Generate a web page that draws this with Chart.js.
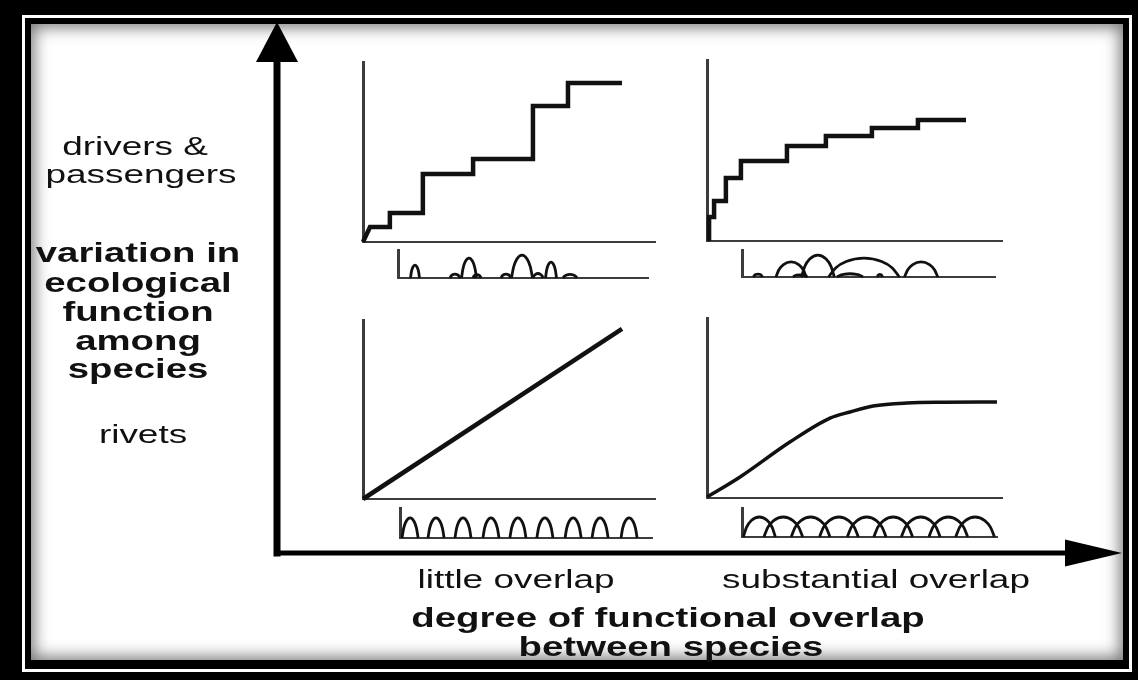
<!DOCTYPE html>
<html>
<head>
<meta charset="utf-8">
<script src="https://cdn.jsdelivr.net/npm/chart.js@4.4.1/dist/chart.umd.min.js"></script>
<style>
html,body{margin:0;padding:0;background:#000;width:1138px;height:680px;overflow:hidden;}
#frame{position:absolute;left:22px;top:15px;width:1110px;height:657px;background:#fff;padding:3px;box-sizing:border-box;}
#frame2{width:100%;height:100%;background:#000;padding:6px 6px 9px 6px;box-sizing:border-box;}
#paper{width:100%;height:100%;background:#fff;box-shadow:inset 0 0 16px 3px rgba(0,0,0,0.55);}
canvas{position:absolute;}
.lbl{position:absolute;width:400px;font-family:"Liberation Sans",Arial,sans-serif;font-size:26px;line-height:30px;color:#111;text-align:center;white-space:nowrap;transform:scaleX(1.42);transform-origin:50% 50%;}
.b{font-weight:bold;font-size:27px;}
</style>
</head>
<body>
<div id="frame"><div id="frame2"><div id="paper"></div></div></div>
<script>
// ---------- text ----------
const yLabelTop = ["drivers &", "passengers"];
const yLabelMid = ["variation in", "ecological", "function", "among", "species"];
const yLabelBottom = ["rivets"];
const xCategoryLabels = ["little overlap", "substantial overlap"];
const xTitleLines = ["degree of functional overlap", "between species"];

// ---------- top-left: drivers & passengers, little overlap (staircase vertices) ----------
const stepLittleX = [0, 2.4, 9.2, 9.2, 20.5, 20.5, 37.7, 37.7, 58.2, 58.2, 70.2, 70.2, 88.7];
const stepLittleY = [0, 8.3, 8.3, 16.1, 16.1, 37.8, 37.8, 46.1, 46.1, 75.6, 75.6, 88.3, 88.3];
// ---------- top-right: drivers & passengers, substantial overlap ----------
const stepSubX = [0.7, 0.7, 2.4, 2.4, 6.4, 6.4, 11.5, 11.5, 27.1, 27.1, 40.3, 40.3, 55.9, 55.9, 71.5, 71.5, 87.8];
const stepSubY = [0, 13.3, 13.3, 22.1, 22.1, 34.8, 34.8, 44.2, 44.2, 52.5, 52.5, 58.0, 58.0, 62.4, 62.4, 66.9, 66.9];
// ---------- bottom-left: rivets, little overlap ----------
const rivLittleX = [0, 88.7];
const rivLittleY = [0, 95];
// ---------- bottom-right: rivets, substantial overlap ----------
const rivSubX = [0, 11.2, 28.1, 41.7, 48.5, 56.3, 67.8, 80, 98.3];
const rivSubY = [0.5, 11.7, 31.1, 44.4, 47.8, 51.1, 52.8, 53.2, 53.3];

// ---------- species function distributions (centre, half-width, height) ----------
const dpLittleC = [6.8, 22.8, 28.4, 31.6, 43.2, 49.6, 56, 61.2, 68.8];
const dpLittleW = [1.8, 2, 3, 1.6, 2, 4.2, 2, 2.2, 2.8];
const dpLittleH = [4.6, 1.4, 7.1, 1.2, 1.4, 8.2, 1.6, 5.7, 1.3];

const dpSubC = [6.3, 19.4, 23, 30.0, 42.7, 48.2, 54.5, 70.8];
const dpSubW = [1.8, 6, 2.8, 6.5, 5.1, 14, 1, 6.6];
const dpSubH = [1.1, 5.6, 0.8, 8.1, 1.2, 7.0, 1, 5.6];

const rvLittleC = [4.0, 14.3, 25.0, 36.1, 46.8, 57.5, 68.7, 79.4, 90.9];
const rvLittleW = [3.2, 3.2, 3.2, 3.2, 3.2, 3.2, 3.2, 3.2, 3.2];
const rvLittleH = [6.7, 6.7, 6.7, 6.7, 6.7, 6.7, 6.7, 6.7, 6.7];

const rvSubC = [6.8, 16.2, 26.9, 38.0, 48.9, 59.3, 70.1, 80.9, 91.4];
const rvSubW = [6.3, 7.6, 7.6, 7.6, 7.6, 7.6, 7.6, 7.6, 7.6];
const rvSubH = [6.9, 6.9, 6.9, 6.9, 6.9, 6.9, 6.9, 6.9, 6.9];

// shape template of one distribution curve (rounded arch)
const bumpShapeDX = [-1, -0.8, -0.5, 0, 0.5, 0.8, 1];
const bumpShapeDY = [0, 0.48, 0.82, 1, 0.82, 0.48, 0];

Chart.defaults.animation = false;
Chart.defaults.events = [];
Chart.defaults.plugins.legend.display = false;
Chart.defaults.plugins.tooltip.enabled = false;

function lineSet(xs, ys, w, mode) {
  return {
    data: xs.map((x, i) => ({x: x, y: ys[i]})),
    showLine: true, borderColor: '#111', borderWidth: w, pointRadius: 0,
    cubicInterpolationMode: mode || 'default', tension: 0, clip: false,
    borderJoinStyle: 'miter', fill: false
  };
}
function bumpSets(cs, ws, hs, w) {
  return cs.map((c, i) => ({
    data: bumpShapeDX.map((d, k) => ({x: c + d * ws[i], y: bumpShapeDY[k] * hs[i]})),
    showLine: true, borderColor: '#111', borderWidth: w, pointRadius: 0,
    cubicInterpolationMode: 'monotone', clip: false, fill: false
  }));
}

const P = 8;
function panel(rect, yMax, datasets, yBW, xBW) {
  const c = document.createElement('canvas');
  c.width = rect.w + 2 * P; c.height = rect.h + 2 * P;
  c.style.left = (rect.x - P) + 'px'; c.style.top = (rect.y - P) + 'px';
  document.body.appendChild(c);
  return new Chart(c, {
    type: 'scatter',
    data: {datasets: datasets},
    options: {
      responsive: false,
      layout: {padding: P},
      scales: {
        x: {type: 'linear', min: 0, max: 100, ticks: {display: false},
            grid: {display: false, drawTicks: false},
            border: {display: true, color: '#3c3c3c', width: xBW}},
        y: {type: 'linear', min: 0, max: yMax, ticks: {display: false},
            grid: {display: false, drawTicks: false},
            border: {display: true, color: '#3c3c3c', width: yBW}}
      }
    }
  });
}

// ---------- main arrows (background chart) ----------
const arrowHeads = {
  id: 'arrowHeads',
  afterDatasetsDraw(chart) {
    const {ctx, scales: {x, y}} = chart;
    const x0 = x.getPixelForValue(0), x1 = x.getPixelForValue(100);
    const y0 = y.getPixelForValue(0), y1 = y.getPixelForValue(100);
    ctx.save();
    ctx.fillStyle = '#000';
    ctx.beginPath(); ctx.moveTo(x0 - 21, y1); ctx.lineTo(x0, y1 - 40); ctx.lineTo(x0 + 21, y1); ctx.closePath(); ctx.fill();
    ctx.beginPath(); ctx.moveTo(x1, y0 - 13.5); ctx.lineTo(x1 + 57, y0); ctx.lineTo(x1, y0 + 13.5); ctx.closePath(); ctx.fill();
    ctx.restore();
  }
};
(function () {
  const c = document.createElement('canvas');
  c.width = 1138; c.height = 680; c.style.left = '0px'; c.style.top = '0px';
  document.body.appendChild(c);
  const ax = lineSet([0, 100], [0, 0], 5); ax.borderColor = '#000'; ax.borderCapStyle = 'square';
  const ay = lineSet([0, 0], [0, 100], 7); ay.borderColor = '#000'; ay.borderCapStyle = 'square';
  new Chart(c, {
    type: 'scatter',
    data: {datasets: [ax, ay]},
    options: {
      responsive: false,
      layout: {padding: {left: 277, top: 62, right: 73, bottom: 127}},
      scales: {x: {display: false, min: 0, max: 100}, y: {display: false, min: 0, max: 100}}
    },
    plugins: [arrowHeads]
  });
})();

// ---------- panels ----------
panel({x: 363, y: 62, w: 292, h: 180}, 100, [lineSet(stepLittleX, stepLittleY, 4.5)], 3, 2);
panel({x: 707, y: 60, w: 295, h: 181}, 100, [lineSet(stepSubX, stepSubY, 4.5)], 3, 2);
panel({x: 363, y: 320, w: 292, h: 179}, 100, [lineSet(rivLittleX, rivLittleY, 4.5)], 3, 2);
panel({x: 707, y: 318, w: 295, h: 180}, 100, [lineSet(rivSubX, rivSubY, 3.5, 'monotone')], 3, 2);

panel({x: 398, y: 250, w: 250, h: 28}, 10, bumpSets(dpLittleC, dpLittleW, dpLittleH, 2.8), 3, 2);
panel({x: 742, y: 250, w: 253, h: 27}, 10, bumpSets(dpSubC, dpSubW, dpSubH, 2.8), 3, 2);
panel({x: 400, y: 508, w: 252, h: 30}, 10, bumpSets(rvLittleC, rvLittleW, rvLittleH, 2.8), 3, 2);
panel({x: 742, y: 508, w: 255, h: 29}, 10, bumpSets(rvSubC, rvSubW, rvSubH, 2.8), 3, 2);

// ---------- labels ----------
function label(text, cx, baseline, bold) {
  const d = document.createElement('div');
  d.className = 'lbl' + (bold ? ' b' : '');
  d.textContent = text;
  d.style.left = (cx - 200) + 'px';
  d.style.top = (baseline - 24) + 'px';
  document.body.appendChild(d);
}
label(yLabelTop[0], 135, 155, false);
label(yLabelTop[1], 141, 183, false);
const midBase = [262, 292, 321, 350, 378];
yLabelMid.forEach((t, i) => label(t, 138, midBase[i], true));
label(yLabelBottom[0], 143, 443, false);
label(xCategoryLabels[0], 516, 588, false);
label(xCategoryLabels[1], 876, 588, false);
label(xTitleLines[0], 668, 627, true);
label(xTitleLines[1], 671, 656, true);
</script>
</body>
</html>
